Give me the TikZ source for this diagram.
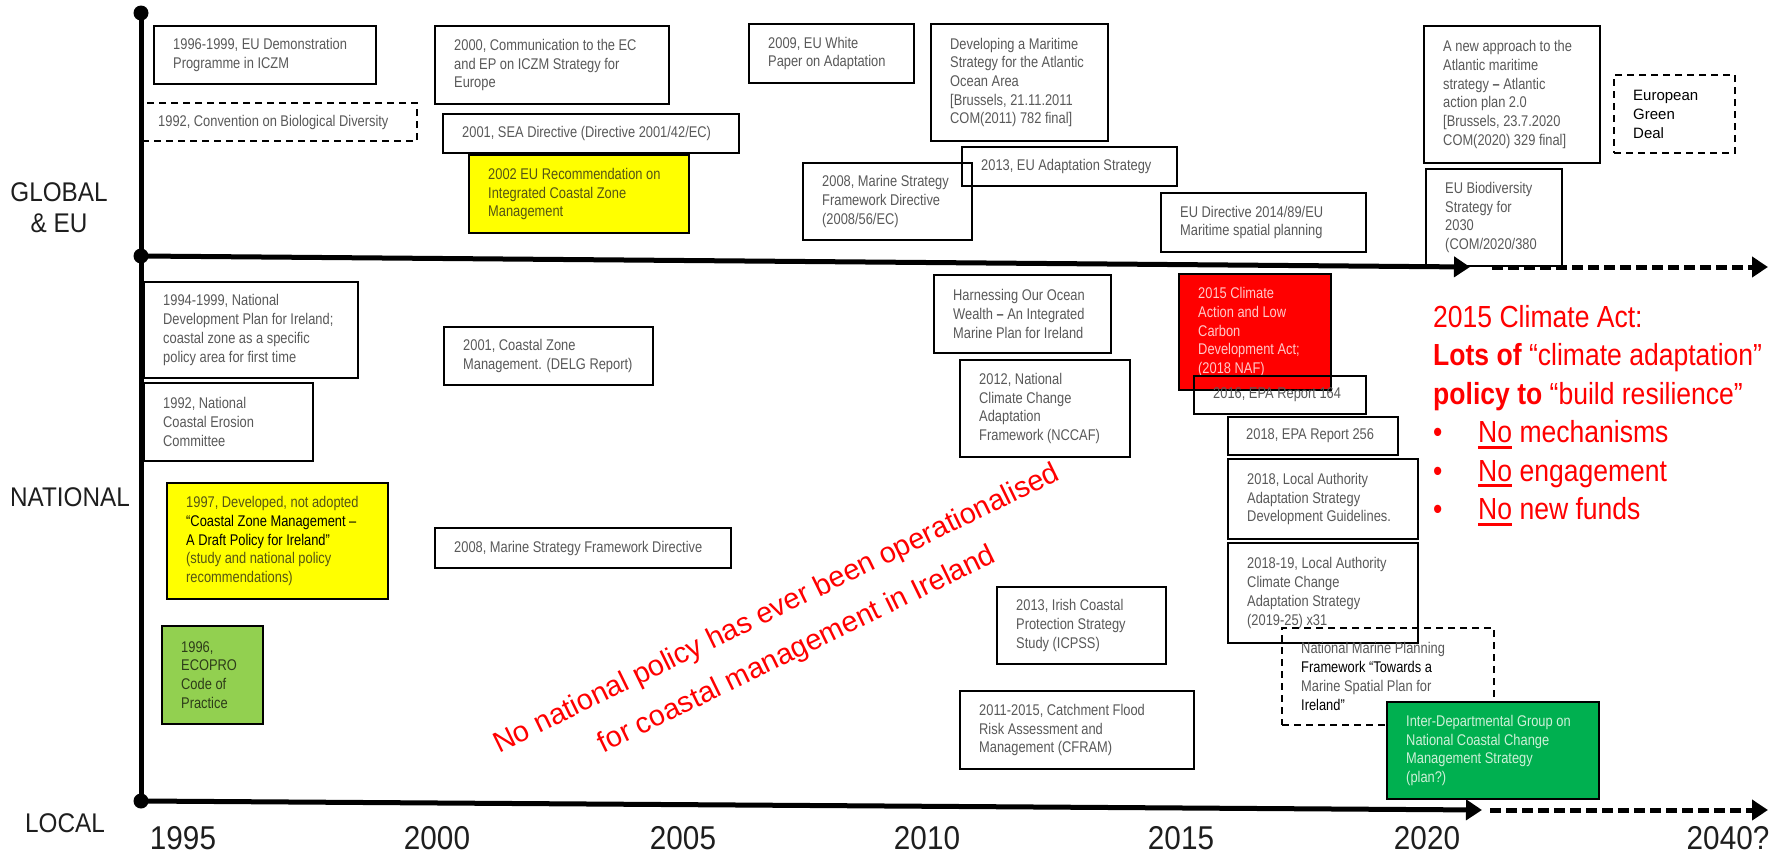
\documentclass[tikz,border=0pt]{standalone}
\usepackage{fontspec}
\setmainfont{Liberation Sans}[FakeStretch=0.83]
\newfontfamily\widefont{Liberation Sans}[FakeStretch=0.9]
\newfontfamily\redfont{Liberation Sans}[FakeStretch=0.87]
\newfontfamily\arialfont{Liberation Sans}
\usetikzlibrary{arrows.meta}
\definecolor{boxtext}{RGB}{89,89,89}
\definecolor{ylw}{RGB}{255,255,0}
\definecolor{ylwtext}{RGB}{85,85,20}
\definecolor{redbox}{RGB}{255,0,0}
\definecolor{rtext}{RGB}{255,200,200}
\definecolor{lgreen}{RGB}{146,208,80}
\definecolor{lgtext}{RGB}{45,60,25}
\definecolor{dgreen}{RGB}{0,176,80}
\definecolor{gtext}{RGB}{205,240,215}
\definecolor{redtxt}{RGB}{255,0,0}
\definecolor{lbl}{RGB}{30,30,30}
\newsavebox\nobox
\newcommand\ulno{\sbox\nobox{No}\rlap{\rule[-6pt]{\wd\nobox}{2.8pt}}\usebox\nobox}
\tikzset{
  bx/.style={draw=black, line width=2pt, inner sep=0pt},
  dbx/.style={bx, dash pattern=on 7pt off 5pt},
  ybx/.style={bx, fill=ylw},
  rbx/.style={bx, fill=redbox},
  lgbx/.style={bx, fill=lgreen},
  gbx/.style={bx, fill=dgreen},
  txt/.style={align=left, inner sep=0pt, text=boxtext, font=\fontsize{15.5}{18.7}\selectfont},
  gdtxt/.style={text=black, font=\arialfont\fontsize{15}{19}\selectfont},
  lvl/.style={align=center, inner sep=0pt, text=lbl, font=\widefont\fontsize{27}{31}\selectfont},
  yr/.style={inner sep=0pt, text=lbl, font=\widefont\fontsize{33}{38}\selectfont},
  rt/.style={inner sep=0pt, text=redtxt, anchor=base west, font=\redfont\fontsize{30.5}{37}\selectfont},
  diag/.style={rotate=26, align=center, inner sep=0pt, text=redtxt, font=\arialfont\fontsize{29}{46}\selectfont},
  axisline/.style={line width=5pt},
  dot/.style={circle, fill=black, inner sep=0pt, minimum size=15pt},
  tip/.style={-{Triangle[length=16pt,width=20pt]}}
}
\newcommand\tlbox[8]{%
  \node[#2, anchor=north west, minimum width={#6-#4}, minimum height={#7-#5}] (#1) at (#4,#5) {};
  \node[txt, #3, anchor=west] (#1-t) at ([xshift=20pt]#1.west) {#8};}
\begin{document}
\begin{tikzpicture}[x=1pt, y=-1pt]
\useasboundingbox (0,0) rectangle (1770,854);
\fill[white] (0,0) rectangle (1770,854);

% ---- GLOBAL & EU ----
\tlbox{a}{bx}{}{153}{25}{375}{83}{1996-1999, EU Demonstration\\Programme in ICZM}
\tlbox{b}{dbx}{xshift=-3pt}{141}{102}{416}{140}{1992, Convention on Biological Diversity}
\tlbox{c}{bx}{}{434}{25}{668}{103}{2000, Communication to the EC\\and EP on ICZM Strategy for\\Europe}
\tlbox{d}{bx}{}{442}{113}{738}{152}{2001, SEA Directive (Directive 2001/42/EC)}
\tlbox{e}{ybx}{text=ylwtext}{468}{154}{688}{232}{2002 EU Recommendation on\\Integrated Coastal Zone\\Management}
\tlbox{f}{bx}{}{748}{23}{913}{82}{2009, EU White\\Paper on Adaptation}
\tlbox{g}{bx}{}{930}{23}{1107}{140}{Developing a Maritime\\Strategy for the Atlantic\\Ocean Area\\{[}Brussels, 21.11.2011\\COM(2011) 782 final{]}}
\tlbox{i}{bx}{}{802}{162}{971}{239}{2008, Marine Strategy\\Framework Directive\\(2008/56/EC)}
\tlbox{h}{bx}{}{961}{146}{1176}{185}{2013, EU Adaptation Strategy}
\tlbox{j}{bx}{}{1160}{192}{1365}{251}{EU Directive 2014/89/EU\\Maritime spatial planning}
\tlbox{k}{bx}{}{1423}{25}{1599}{162}{A new approach to the\\Atlantic maritime\\strategy \textbf{–} Atlantic\\action plan 2.0\\{[}Brussels, 23.7.2020\\COM(2020) 329 final{]}}
\tlbox{l}{bx}{}{1425}{168}{1561}{265}{EU Biodiversity\\Strategy for\\2030\\(COM/2020/380}
\tlbox{m}{dbx}{gdtxt}{1613}{74}{1734}{152}{European\\Green\\Deal}

% ---- NATIONAL ----
\tlbox{n1}{bx}{}{143}{281}{357}{377}{1994-1999, National\\Development Plan for Ireland;\\coastal zone as a specific\\policy area for first time}
\tlbox{n2}{bx}{}{143}{382}{312}{460}{1992, National\\Coastal Erosion\\Committee}
\tlbox{n3}{ybx}{text=ylwtext}{166}{482}{387}{598}{1997, Developed, not adopted\\\textcolor{black}{“Coastal Zone Management –}\\\textcolor{black}{A Draft Policy for Ireland”}\\(study and national policy\\recommendations)}
\tlbox{n4}{lgbx}{text=lgtext}{161}{625}{262}{723}{1996,\\ECOPRO\\Code of\\Practice}
\tlbox{n5}{bx}{}{443}{326}{652}{384}{2001, Coastal Zone\\Management. (DELG Report)}
\tlbox{n6}{bx}{}{434}{527}{730}{567}{2008, Marine Strategy Framework Directive}
\tlbox{n7}{bx}{}{933}{274}{1110}{352}{Harnessing Our Ocean\\Wealth \textbf{–} An Integrated\\Marine Plan for Ireland}
\tlbox{n8}{bx}{}{959}{359}{1129}{456}{2012, National\\Climate Change\\Adaptation\\Framework (NCCAF)}
\tlbox{n9}{rbx}{text=rtext}{1178}{273}{1330}{389}{2015 Climate\\Action and Low\\Carbon\\Development Act;\\(2018 NAF)}
\tlbox{n10}{bx}{}{1193}{375}{1365}{413}{2016, EPA Report 164}
\tlbox{n11}{bx}{xshift=-1pt}{1227}{416}{1397}{454}{2018, EPA Report 256}
\tlbox{n12}{bx}{}{1227}{458}{1417}{538}{2018, Local Authority\\Adaptation Strategy\\Development Guidelines.}
\tlbox{n13}{bx}{}{1227}{542}{1417}{642}{2018-19, Local Authority\\Climate Change\\Adaptation Strategy\\(2019-25) x31}
\tlbox{n14}{dbx}{}{1281}{627}{1493}{724}{National Marine Planning\\\textcolor{black}{Framework “Towards a}\\Marine Spatial Plan for\\\textcolor{black}{Ireland”}}
\tlbox{n15}{gbx}{text=gtext}{1386}{701}{1598}{798}{Inter-Departmental Group on\\National Coastal Change\\Management Strategy\\(plan?)}
\tlbox{n16}{bx}{}{996}{586}{1165}{663}{2013, Irish Coastal\\Protection Strategy\\Study (ICPSS)}
\tlbox{n17}{bx}{}{959}{690}{1193}{768}{2011-2015, Catchment Flood\\Risk Assessment and\\Management (CFRAM)}

% ---- diagonal statement ----
\node[diag] (nopol) at (787,630) {No national policy has ever been operationalised\\for coastal management in Ireland};

% ---- right red text ----
\node[rt] (ra) at (1433,327) {2015 Climate Act:};
\node[rt] (rb) at (1433,365.5) {\textbf{Lots of} “climate adaptation”};
\node[rt] (rc) at (1433,404) {\textbf{policy to} “build resilience”};
\node[rt] (bu1) at (1433,442.5) {•};
\node[rt] (rd) at (1478,442.5) {\ulno{} mechanisms};
\node[rt] (bu2) at (1433,481) {•};
\node[rt] (re) at (1478,481) {\ulno{} engagement};
\node[rt] (bu3) at (1433,519.5) {•};
\node[rt] (rf) at (1478,519.5) {\ulno{} new funds};

% ---- level labels ----
\node[lvl] (glob) at (59,208) {GLOBAL\\\& EU};
\node[lvl] (nat) at (70,497) {NATIONAL};
\node[lvl] (loc) at (65,823) {LOCAL};

% ---- years ----
\node[yr] (y1995) at (183,838) {1995};
\node[yr] (y2000) at (437,838) {2000};
\node[yr] (y2005) at (683,838) {2005};
\node[yr] (y2010) at (927,838) {2010};
\node[yr] (y2015) at (1181,838) {2015};
\node[yr] (y2020) at (1427,838) {2020};
\node[yr] (y2040) at (1728,838) {2040?};

% ---- axes ----
\coordinate (top) at (141,13);
\coordinate (gpt) at (141,256);
\coordinate (lpt) at (141,801);
\coordinate (gend) at (1470,267);
\coordinate (gd1) at (1492,267);
\coordinate (gd2) at (1768,267);
\coordinate (lend) at (1482,810);
\coordinate (ld1) at (1490,810);
\coordinate (ld2) at (1768,810);
\draw[axisline] (top) -- (lpt);
\draw[axisline, tip] (gpt) -- (gend);
\draw[axisline, tip, dash pattern=on 11pt off 5pt] (gd1) -- (gd2);
\draw[axisline, tip] (lpt) -- (lend);
\draw[axisline, tip, dash pattern=on 11pt off 5pt] (ld1) -- (ld2);
\node[dot] (topdot) at (top) {};
\node[dot] (gdot) at (gpt) {};
\node[dot] (ldot) at (lpt) {};
\end{tikzpicture}
\end{document}
